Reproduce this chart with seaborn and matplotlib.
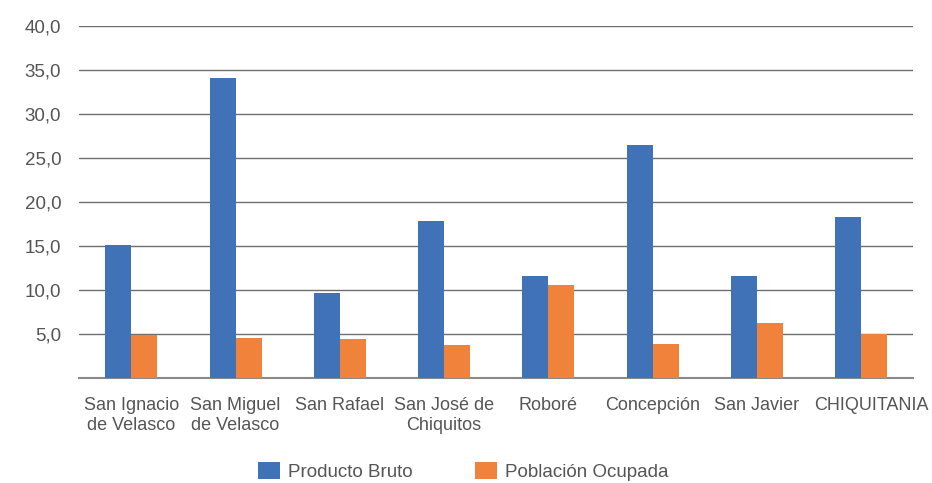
import pandas as pd
import matplotlib.pyplot as plt
import matplotlib.transforms as mtrans
import seaborn as sns
from matplotlib.ticker import FuncFormatter

# values
municipios = ['San Ignacio\nde Velasco', 'San Miguel\nde Velasco', 'San Rafael',
              'San José de\nChiquitos', 'Roboré', 'Concepción', 'San Javier', 'CHIQUITANIA']
producto_bruto = [15.1, 34.0, 9.6, 17.8, 11.5, 26.4, 11.5, 18.2]
poblacion_ocupada = [4.9, 4.5, 4.4, 3.7, 10.5, 3.8, 6.2, 5.0]
series = ['Producto Bruto', 'Población Ocupada']
colores = ['#4072b8', '#f0823c']

df = pd.DataFrame({
    'Municipio': municipios * 2,
    'Valor': producto_bruto + poblacion_ocupada,
    'Serie': [series[0]] * len(municipios) + [series[1]] * len(municipios),
})

sns.set_style('white')
plt.rcParams['font.family'] = ['Liberation Sans', 'DejaVu Sans']

fig, ax = plt.subplots(figsize=(9.32, 4.83), dpi=100)
fig.subplots_adjust(left=0.085, right=0.98, top=0.947, bottom=0.218)

sns.barplot(data=df, x='Municipio', y='Valor', hue='Serie', palette=colores,
            width=0.5, saturation=1, linewidth=0, ax=ax, zorder=3)

ax.set_ylim(0, 40)
ax.set_yticks(range(5, 45, 5))
ax.yaxis.set_major_formatter(FuncFormatter(lambda v, p: f'{v:.1f}'.replace('.', ',')))
ax.grid(axis='y', color='#6e6e6e', linewidth=1, zorder=0)
ax.set_xlabel('')
ax.set_ylabel('')
for s in ['top', 'right', 'left']:
    ax.spines[s].set_visible(False)
ax.spines['bottom'].set_color('#8a8a8a')
ax.spines['bottom'].set_linewidth(1.5)
ax.tick_params(axis='both', length=0, labelsize=13, colors='#555555')
ax.tick_params(axis='y', labelsize=13.5, pad=13)
ax.tick_params(axis='x', pad=14)

# last label sits a bit to the right, as in the original
last = ax.get_xticklabels()[-1]
last.set_transform(last.get_transform() + mtrans.ScaledTranslation(10 / 100, 0, fig.dpi_scale_trans))

handles, labels = ax.get_legend_handles_labels()
ax.get_legend().remove()
fig.legend(handles, labels, loc='center', bbox_to_anchor=(0.497, 0.024), ncol=2, frameon=False,
           fontsize=13.5, labelcolor='#555555', handlelength=1.17, handleheight=1.05,
           columnspacing=3.3, handletextpad=0.43)

fig.savefig('out.png')
